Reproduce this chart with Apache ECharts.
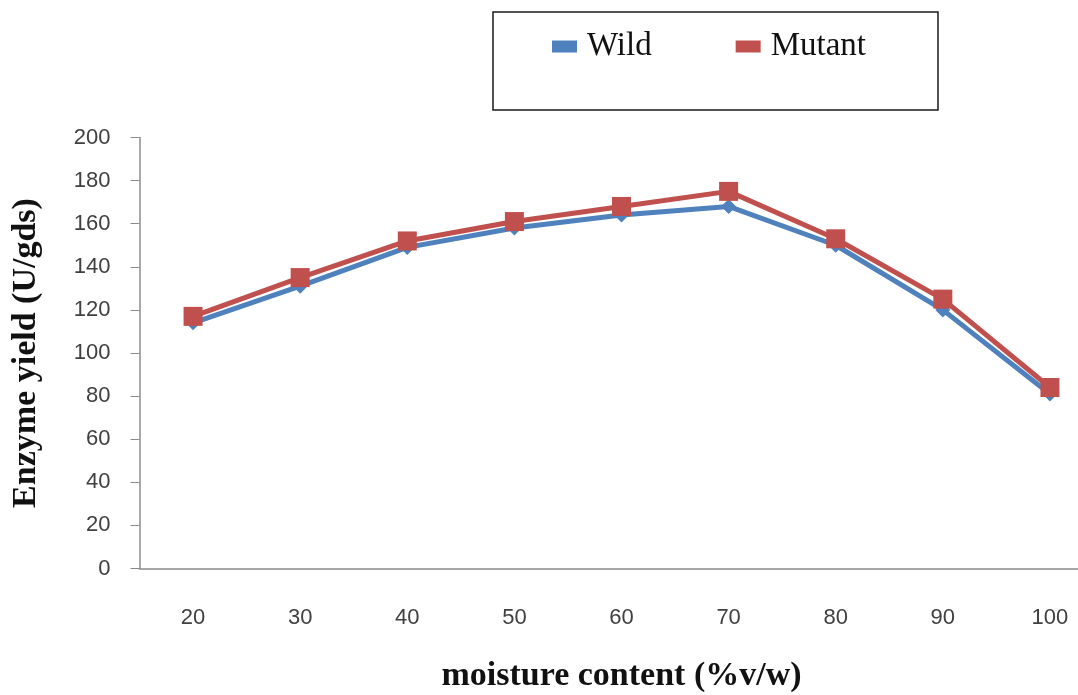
<!DOCTYPE html>
<html>
<head>
<meta charset="utf-8">
<script src="https://cdn.jsdelivr.net/npm/echarts@6/dist/echarts.min.js"></script>
<style>
  html, body { margin: 0; padding: 0; background: #fff; }
  #chart { width: 1078px; height: 695px; }
</style>
</head>
<body>
<div id="chart"></div>
<script>
// Moisture content levels (% v/w)
const moisture = ['20', '30', '40', '50', '60', '70', '80', '90', '100'];
// Enzyme yield (U/gds) per strain
const wildYield = [114, 131, 149, 158, 164, 168, 150, 120, 81];
const mutantYield = [117, 135, 152, 161, 168, 175, 153, 125, 84];
const yTicks = { min: 0, max: 200, interval: 20 };

const chart = echarts.init(document.getElementById('chart'));
chart.setOption({
  backgroundColor: '#ffffff',
  animation: false,
  graphic: [{
    type: 'rect',
    shape: { x: 493, y: 12, width: 445, height: 98 },
    style: { fill: '#ffffff', stroke: '#1a1a1a', lineWidth: 1.5 },
    z: 0
  }],
  legend: {
    left: 552,
    top: 30,
    padding: 0,
    itemWidth: 25,
    itemHeight: 12,
    itemGap: 84,
    icon: 'rect',
    textStyle: {
      fontFamily: 'Liberation Serif',
      fontSize: 33,
      color: '#111',
      padding: [0, 0, 0, 5]
    },
    data: ['Wild', 'Mutant'],
    z: 5
  },
  // plot area runs a little past the right edge of the canvas
  grid: { left: 139.5, width: 964, top: 137.5, height: 431, outerBoundsMode: 'none', containLabel: false },
  xAxis: {
    type: 'category',
    data: moisture,
    boundaryGap: true,
    axisLine: { lineStyle: { color: '#8c8c8c', width: 1.5 } },
    axisTick: { alignWithLabel: true, length: 7, lineStyle: { color: '#8c8c8c' } },
    axisLabel: { fontFamily: 'Liberation Sans', fontSize: 22, color: '#404040', margin: 38 },
    name: 'moisture content (%v/w)',
    nameLocation: 'middle',
    nameGap: 91,
    nameTextStyle: { fontFamily: 'Liberation Serif', fontWeight: 'bold', fontSize: 34, color: '#111' }
  },
  yAxis: {
    type: 'value',
    min: yTicks.min,
    max: yTicks.max,
    interval: yTicks.interval,
    axisLine: { show: true, lineStyle: { color: '#8c8c8c', width: 1.5 } },
    axisTick: { show: true, length: 9, lineStyle: { color: '#8c8c8c' } },
    splitLine: { show: false },
    axisLabel: { fontFamily: 'Liberation Sans', fontSize: 22, color: '#404040', margin: 29 },
    name: 'Enzyme yield (U/gds)',
    nameLocation: 'middle',
    nameGap: 96,
    nameTextStyle: { fontFamily: 'Liberation Serif', fontWeight: 'bold', fontSize: 34, color: '#111' }
  },
  series: [
    {
      name: 'Wild',
      type: 'line',
      data: wildYield,
      color: '#4f81bd',
      symbol: 'diamond',
      symbolSize: 15,
      lineStyle: { width: 5, color: '#4f81bd' },
      itemStyle: { color: '#4f81bd' }
    },
    {
      name: 'Mutant',
      type: 'line',
      data: mutantYield,
      color: '#c0504d',
      symbol: 'rect',
      symbolSize: 19,
      lineStyle: { width: 5, color: '#c0504d' },
      itemStyle: { color: '#c0504d' }
    }
  ]
});
</script>
</body>
</html>
